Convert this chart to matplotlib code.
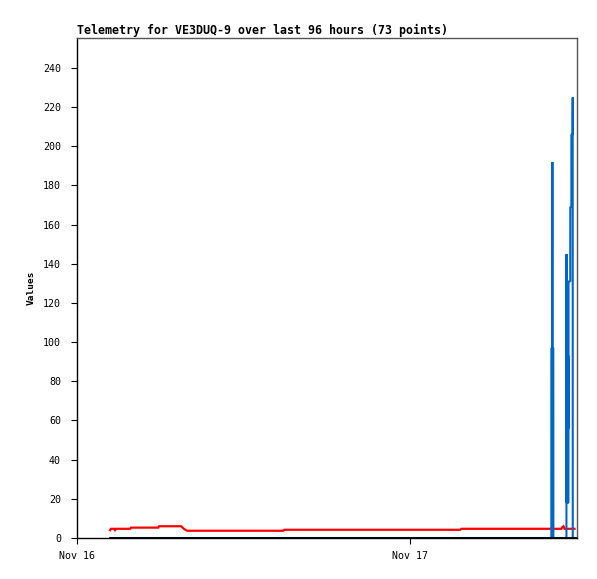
import matplotlib
matplotlib.use("Agg")
import matplotlib.pyplot as plt

# data in hours since Nov 16 00:00
red_t = [2.38, 2.45, 2.66, 2.74, 2.81, 3.82, 3.89, 5.84, 5.91, 7.50, 7.71, 7.93,
         12.0, 14.85, 14.92, 20.0, 27.60, 27.67, 32.0, 34.88, 34.95, 35.03, 35.10, 35.82]
red_v = [4.0, 4.7, 4.7, 4.0, 4.7, 4.7, 5.3, 5.3, 6.0, 6.0, 4.6, 3.7,
         3.7, 3.7, 4.2, 4.2, 4.2, 4.7, 4.7, 4.7, 5.6, 6.0, 4.7, 4.7]

blue_t = [2.38, 14.85, 27.60,
          34.151, 34.155, 34.223, 34.227, 34.230, 34.295, 34.299,
          35.240, 35.243, 35.247,
          35.384, 35.387, 35.389, 35.391,
          35.514, 35.517,
          35.593, 35.596,
          35.686, 35.690, 35.694,
          35.892]
blue_v = [0, 0, 0,
          0, 97, 97, 192, 97, 97, 0,
          0, 145, 18,
          18, 93, 56, 131,
          131, 169,
          169, 206,
          206, 225, 0,
          0]

black_t = [2.38, 14.85, 27.60, 35.89]
black_v = [0, 0, 0, 0]

xtick_pos = [0, 24]
xtick_labels = ["Nov 16", "Nov 17"]
ytick_vals = list(range(0, 241, 20))

title = "Telemetry for VE3DUQ-9 over last 96 hours (73 points)"

plt.rcParams['font.family'] = ['DejaVu Sans Mono']

fig = plt.figure(figsize=(5.97, 5.79), dpi=100)
ax = fig.add_axes([77/597, (579-538)/579, 500/597, 500/579])

ax.plot(red_t, red_v, color="#ff0000", lw=1.6, solid_joinstyle="miter", zorder=3)
ax.plot(blue_t, blue_v, color="#0066cc", lw=1.5, solid_joinstyle="bevel",
        solid_capstyle="butt", zorder=4)
ax.plot(black_t, black_v, color="#000000", lw=2.0, zorder=5)

ax.set_xlim(0, 36)
ax.set_ylim(0, 255.3)
ax.set_xticks(xtick_pos)
ax.set_xticklabels(xtick_labels, fontsize=7.2)
ax.set_yticks(ytick_vals)
ax.set_yticklabels([str(v) for v in ytick_vals], fontsize=7.2)
ax.tick_params(direction="out", length=4.5, width=0.8)
ax.tick_params(axis="y", pad=7)
ax.tick_params(axis="x", pad=5)

for s in ["left", "bottom"]:
    ax.spines[s].set_color("#000000")
    ax.spines[s].set_linewidth(1.0)
for s in ["top", "right"]:
    ax.spines[s].set_color("#555555")
    ax.spines[s].set_linewidth(1.0)

ax.set_ylabel("Values", fontsize=6.8, fontweight="bold", labelpad=5.5)
ax.set_title(title, loc="left", fontsize=8.35, fontweight="bold", pad=3)

fig.savefig("out.png", dpi=100)
